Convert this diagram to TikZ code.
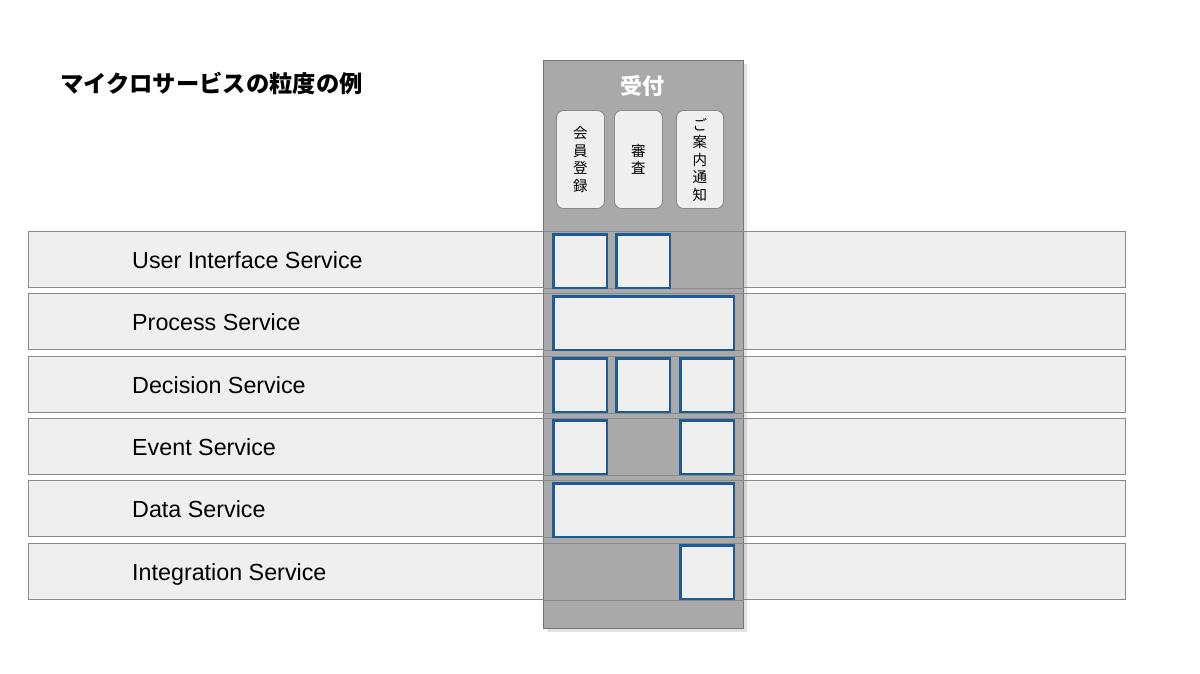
\documentclass[tikz,border=0pt]{standalone}
\usepackage{fontspec}
\setmainfont{Liberation Sans}
\newfontfamily\jp{Noto Sans CJK JP}
\usetikzlibrary{shadows}
\definecolor{rowfill}{HTML}{EFEFEF}
\definecolor{rowline}{HTML}{8A8A8A}
\definecolor{colfill}{HTML}{A9A9A9}
\definecolor{colline}{HTML}{767676}
\definecolor{blueline}{HTML}{1E5A96}
\begin{document}
\begin{tikzpicture}[x=1pt,y=-1pt,
  rowbox/.style={draw=rowline, fill=rowfill, line width=1pt, minimum width=1097pt, minimum height=56pt, anchor=north west, inner sep=0pt},
  rowlabel/.style={anchor=base west, inner sep=0pt, font=\fontsize{23.3}{28}\selectfont},
  cellbox/.style={draw=blueline, fill=rowfill, line width=2.4pt, minimum height=53.6pt, anchor=north west, inner sep=0pt},
  subbox/.style={draw=rowline, fill=rowfill, line width=0.9pt, rounded corners=7pt, minimum height=98pt, anchor=north west, inner sep=0pt, align=center, font=\jp\fontsize{14.5}{17.5}\selectfont},
]
\useasboundingbox (0,0) rectangle (1200,673);
\fill[white] (0,0) rectangle (1200,673);

% title
\node[anchor=west, inner sep=0pt, font=\jp\bfseries\fontsize{23.3}{27}\selectfont] (title) at (60,83) {マイクロサービスの粒度の例};

% rows
\node[rowbox] (r1) at (28,231) {};
\node[rowbox] (r2) at (28,293) {};
\node[rowbox] (r3) at (28,356) {};
\node[rowbox] (r4) at (28,418) {};
\node[rowbox] (r5) at (28,480) {};
\node[rowbox] (r6) at (28,543) {};

\node[rowlabel] (l1) at (132,268) {User Interface Service};
\node[rowlabel] (l2) at (132,330) {Process Service};
\node[rowlabel] (l3) at (132,393) {Decision Service};
\node[rowlabel] (l4) at (132,455) {Event Service};
\node[rowlabel] (l5) at (132,517) {Data Service};
\node[rowlabel] (l6) at (132,580) {Integration Service};

% column
\node[draw=colline, fill=colfill, line width=1pt, minimum width=200pt, minimum height=568pt, anchor=north west, inner sep=0pt,
  drop shadow={shadow xshift=3pt, shadow yshift=-3pt, opacity=0.22}] (col) at (543,60) {};
\node[text=white, inner sep=0pt, font=\jp\bfseries\fontsize{22}{26}\selectfont] (coltitle) at (642,86) {受付};

% row lines visible through the column
\foreach \r in {r1,r2,r3,r4,r5,r6}{
  \draw[rowline, line width=1pt] (\r.north west -| col.west) -- (\r.north east -| col.east);
  \draw[rowline, line width=1pt] (\r.south west -| col.west) -- (\r.south east -| col.east);
}

% sub-function boxes
\node[subbox, minimum width=48pt] (s1) at (556,110) {会\\員\\登\\録};
\node[subbox, minimum width=48pt] (s2) at (614,110) {審\\査};
\node[subbox, minimum width=47pt] (s3) at (676,110) {ご\\案\\内\\通\\知};

% cells
\node[cellbox, minimum width=53.6pt] (c11) at (552.2,233.2) {};
\node[cellbox, minimum width=53.6pt] (c12) at (615.2,233.2) {};
\node[cellbox, minimum width=180.6pt] (c2) at (552.2,295.2) {};
\node[cellbox, minimum width=53.6pt] (c31) at (552.2,357.2) {};
\node[cellbox, minimum width=53.6pt] (c32) at (615.2,357.2) {};
\node[cellbox, minimum width=53.6pt] (c33) at (679.2,357.2) {};
\node[cellbox, minimum width=53.6pt] (c41) at (552.2,419.2) {};
\node[cellbox, minimum width=53.6pt] (c43) at (679.2,419.2) {};
\node[cellbox, minimum width=180.6pt] (c5) at (552.2,482.2) {};
\node[cellbox, minimum width=53.6pt] (c63) at (679.2,544.2) {};
\end{tikzpicture}
\end{document}
